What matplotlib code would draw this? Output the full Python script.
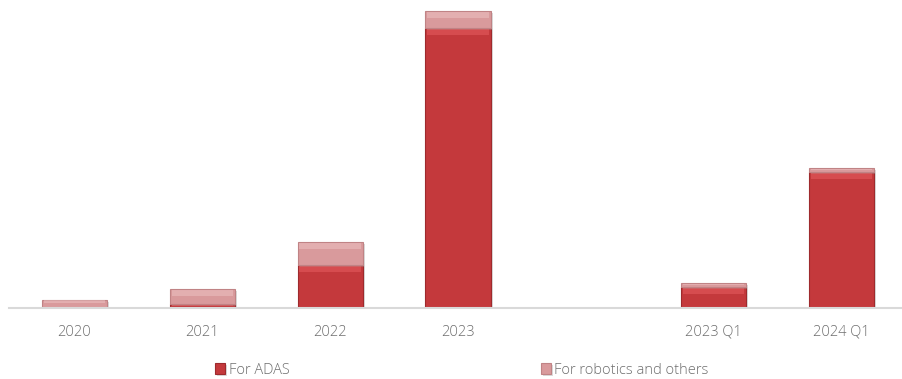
import matplotlib
matplotlib.use("Agg")
import matplotlib.pyplot as plt
import matplotlib.patheffects as pe
import numpy as np

plt.rcParams['font.family'] = ['Open Sans', 'DejaVu Sans']

categories = ["2020", "2021", "2022", "2023", "2023 Q1", "2024 Q1"]
positions = [0, 1, 2, 3, 5, 6]
adas = [0.4, 4, 43, 280, 21, 136]
robotics = [8, 15, 23, 17, 4, 4]

adasColor = "#c4393c"
roboColor = "#d99a9c"
textColor = "#6e6e6e"

fig = plt.figure(figsize=(9.02, 3.79), dpi=100)
ax = fig.add_axes([10.5 / 902, 71 / 379, 895 / 902, 303 / 379])

width = 0.51
shadow = [pe.SimplePatchShadow(offset=(1.5, -1.5), shadow_rgbFace="#999999", alpha=0.35), pe.Normal()]

x = np.array(positions)
adasArr = np.array(adas)
roboArr = np.array(robotics)

b1 = ax.bar(x, adasArr, width=width, color=adasColor, edgecolor="#9e2a2d", linewidth=0.8,
            label="For ADAS", path_effects=shadow, zorder=2)
b2 = ax.bar(x, roboArr, width=width, bottom=adasArr, color=roboColor, edgecolor="#c08385",
            linewidth=0.8, label="For robotics and others", path_effects=shadow, zorder=2)

# bevel highlight at the top of each segment
def bevel(bottoms, heights, color):
	band = np.minimum(heights * 0.4, 6)
	ax.bar(x, band, width=width * 0.94, bottom=bottoms + heights - band - 0.6, color=color,
	       alpha=0.4, linewidth=0, zorder=3)

bevel(np.zeros(len(x)), adasArr, "#f26b6e")
bevel(adasArr, roboArr, "#f4cfd0")

ax.set_xlim(-0.5, 6.5)
ax.set_ylim(0, 303)
ax.set_xticks(positions)
ax.set_xticklabels(categories, color=textColor, fontsize=10.5, fontweight="light")
ax.tick_params(axis="x", length=0, pad=12)
ax.set_yticks([])
for s in ["top", "right", "left"]:
	ax.spines[s].set_visible(False)
ax.spines["bottom"].set_color("#d9d9d9")
ax.spines["bottom"].set_linewidth(1.5)
ax.spines["bottom"].set_bounds(-0.51, 6.6)

leg = fig.legend(handles=[b1, b2], loc="center", bbox_to_anchor=(462 / 902, 1 - 370 / 379),
                 ncol=2, frameon=False, handlelength=0.7, handleheight=0.7,
                 handletextpad=0.25, columnspacing=17.2, labelcolor=textColor,
                 prop={"size": 10.5, "weight": "light"})

fig.savefig("out.png", dpi=100)
